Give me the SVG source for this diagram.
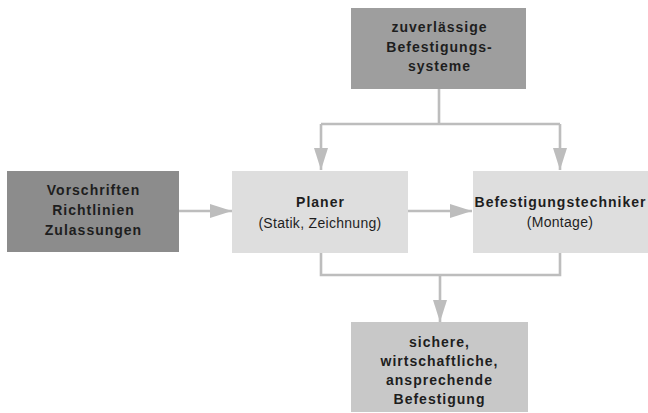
<svg xmlns="http://www.w3.org/2000/svg" width="648" height="413" viewBox="0 0 648 413">
<style>
.t{font-family:"Liberation Sans",Arial,sans-serif;font-size:14px;fill:#1e1e1e;text-anchor:middle;letter-spacing:0.3px}
.b{font-weight:bold;letter-spacing:1px}
.c{fill:none;stroke:#bdbdbd;stroke-width:2.6}
</style>
<defs>
<marker id="ahv" markerWidth="22" markerHeight="14" viewBox="0 0 22 14" refX="22" refY="7" orient="auto" markerUnits="userSpaceOnUse">
<path d="M0,0 L22,7 L0,14 Z" fill="#bdbdbd"/>
</marker>
</defs>
<rect width="648" height="413" fill="#ffffff"/>
<g id="connectors">
<path class="c" d="M439,89 V124"/>
<path class="c" d="M321,124 H560"/>
<path class="c" d="M321,124 V170" marker-end="url(#ahv)"/>
<path class="c" d="M560,124 V170" marker-end="url(#ahv)"/>
<path class="c" d="M179,211 H232" marker-end="url(#ahv)"/>
<path class="c" d="M408,211 H472" marker-end="url(#ahv)"/>
<path class="c" d="M321,253 V275 H560 V253"/>
<path class="c" d="M440,275 V322" marker-end="url(#ahv)"/>
</g>
<g id="systeme">
<rect x="351" y="8" width="175" height="81" fill="#9e9e9e"/>
<text class="t b" x="439.5" y="32">zuverlässige</text>
<text class="t b" x="439.5" y="52">Befestigungs-</text>
<text class="t b" x="439.5" y="71">systeme</text>
</g>
<g id="vorschriften">
<rect x="7" y="171" width="172" height="81" fill="#8c8c8c"/>
<text class="t b" x="93.5" y="195">Vorschriften</text>
<text class="t b" x="93.5" y="215">Richtlinien</text>
<text class="t b" x="93.5" y="235">Zulassungen</text>
</g>
<g id="planer">
<rect x="232" y="171" width="176" height="82" fill="#dedede"/>
<text class="t b" x="320.5" y="207">Planer</text>
<text class="t" x="320" y="228">(Statik, Zeichnung)</text>
</g>
<g id="techniker">
<rect x="473" y="171" width="175" height="82" fill="#dedede"/>
<text class="t b" x="560.5" y="207">Befestigungstechniker</text>
<text class="t" x="560" y="227">(Montage)</text>
</g>
<g id="ergebnis">
<rect x="351" y="322" width="177" height="90" fill="#c8c8c8"/>
<text class="t b" x="439.5" y="347">sichere,</text>
<text class="t b" x="439.5" y="366">wirtschaftliche,</text>
<text class="t b" x="439.5" y="385">ansprechende</text>
<text class="t b" x="439.5" y="404">Befestigung</text>
</g>
</svg>
